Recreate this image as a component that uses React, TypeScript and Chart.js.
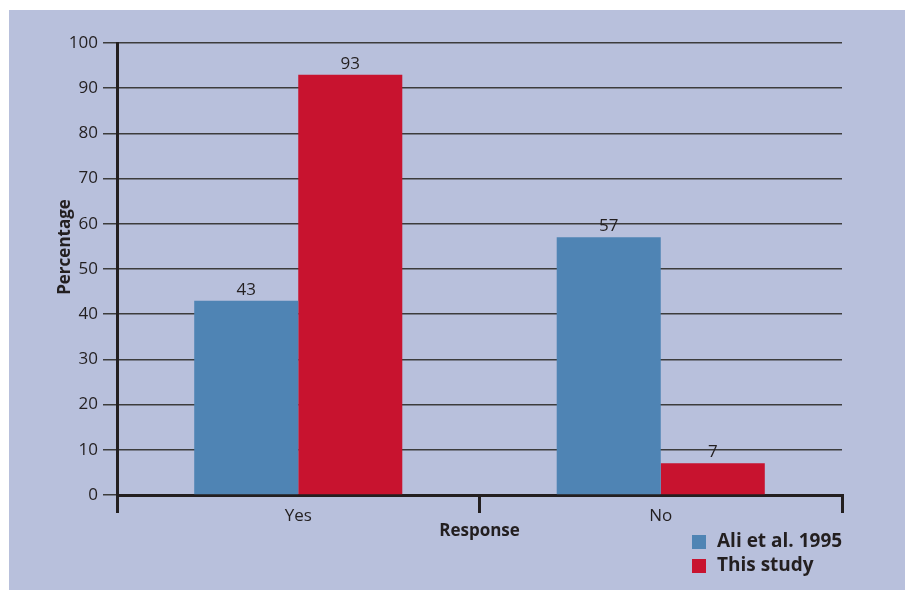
import React, { useEffect, useRef } from "react";
import { Chart, registerables } from "chart.js";

Chart.register(...registerables);

// Survey responses (percent)
const categories = ["Yes", "No"];
const seriesNames = ["Ali et al. 1995", "This study"];
const aliValues = [43, 57];
const thisStudyValues = [93, 7];
const yTicks = { min: 0, max: 100, step: 10 };

const FONT = "'Open Sans', 'Noto Sans', sans-serif";
const INK = "#231f20";
const PANEL = "#b8c0dc";
const BLUE = "#4f84b4";
const RED = "#c8132f";

const panelPlugin = {
  id: "panel",
  beforeDraw(chart: any) {
    const { ctx, width, height } = chart;
    ctx.save();
    ctx.fillStyle = "#ffffff";
    ctx.fillRect(0, 0, width, height);
    ctx.fillStyle = PANEL;
    ctx.fillRect(9, 10, width - 9, height - 10);
    ctx.restore();
  },
};

const valueLabelPlugin = {
  id: "valueLabels",
  afterDatasetsDraw(chart: any) {
    const { ctx } = chart;
    ctx.save();
    ctx.font = `17px ${FONT}`;
    ctx.fillStyle = INK;
    ctx.textAlign = "center";
    ctx.textBaseline = "alphabetic";
    chart.data.datasets.forEach((ds: any, i: number) => {
      const meta = chart.getDatasetMeta(i);
      meta.data.forEach((bar: any, j: number) => {
        ctx.fillText(String(ds.data[j]), bar.x, bar.y - 6);
      });
    });
    ctx.restore();
  },
};

const sideTitlePlugin = {
  id: "sideTitle",
  afterDraw(chart: any) {
    const { ctx } = chart;
    ctx.save();
    ctx.font = `bold 17px ${FONT}`;
    ctx.fillStyle = INK;
    ctx.textAlign = "center";
    ctx.textBaseline = "middle";
    ctx.translate(65, 247);
    ctx.rotate(-Math.PI / 2);
    ctx.fillText("Percentage", 0, 0);
    ctx.restore();
  },
};

const boxLegendPlugin = {
  id: "boxLegend",
  afterDraw(chart: any) {
    const { ctx } = chart;
    ctx.save();
    ctx.font = `bold 19px ${FONT}`;
    ctx.textAlign = "left";
    ctx.textBaseline = "middle";
    chart.data.datasets.forEach((ds: any, i: number) => {
      const top = 535 + i * 24;
      ctx.fillStyle = ds.backgroundColor;
      ctx.fillRect(692, top, 14, 14);
      ctx.fillStyle = INK;
      ctx.fillText(ds.label, 717, top + 7);
    });
    ctx.restore();
  },
};

export default function App() {
  const canvasRef = useRef<HTMLCanvasElement | null>(null);

  useEffect(() => {
    if (!canvasRef.current) return;
    const chart = new Chart(canvasRef.current, {
      type: "bar",
      data: {
        labels: categories,
        datasets: [
          {
            label: seriesNames[0],
            data: aliValues,
            backgroundColor: BLUE,
            categoryPercentage: 0.574,
            barPercentage: 1,
          },
          {
            label: seriesNames[1],
            data: thisStudyValues,
            backgroundColor: RED,
            categoryPercentage: 0.574,
            barPercentage: 1,
          },
        ],
      },
      options: {
        animation: false,
        responsive: false,
        layout: { padding: { top: 43, right: 63, left: 0, bottom: 0 } },
        plugins: {
          legend: { display: false },
          tooltip: { enabled: false },
        },
        scales: {
          x: {
            afterFit: (scale: any) => {
              scale.height = 95;
            },
            grid: {
              display: true,
              drawOnChartArea: false,
              drawTicks: true,
              tickLength: 18,
              color: INK,
              lineWidth: 3,
            },
            border: { display: true, color: INK, width: 3 },
            ticks: {
              color: INK,
              font: { family: FONT, size: 17 },
              padding: -7,
            },
            title: {
              display: true,
              text: "Response",
              color: INK,
              font: { family: FONT, size: 17, weight: "bold" },
              padding: { top: 0, bottom: 49 },
            },
          },
          y: {
            min: yTicks.min,
            max: yTicks.max,
            afterFit: (scale: any) => {
              scale.width = 117;
            },
            grid: {
              color: "#3c3c3c",
              lineWidth: 1.5,
              tickLength: 14,
            },
            border: { display: true, color: INK, width: 3 },
            ticks: {
              stepSize: yTicks.step,
              color: INK,
              font: { family: FONT, size: 17 },
              padding: 5,
            },
          },
        },
      },
      plugins: [panelPlugin, valueLabelPlugin, sideTitlePlugin, boxLegendPlugin],
    });
    return () => chart.destroy();
  }, []);

  return (
    <div style={{ position: "fixed", left: 0, top: 0, width: 905, height: 590 }}>
      <canvas ref={canvasRef} width={905} height={590} style={{ display: "block" }} />
    </div>
  );
}
